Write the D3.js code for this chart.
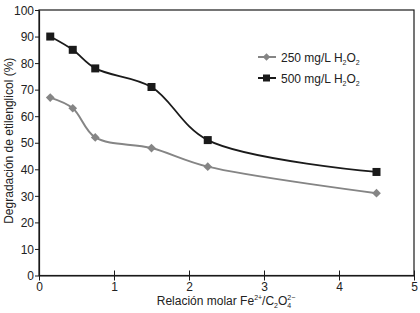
<!DOCTYPE html>
<html><head><meta charset="utf-8">
<script src="https://cdn.jsdelivr.net/npm/d3@7"></script>
<style>body{margin:0;background:#fff;}svg{display:block;}text{font-family:"Liberation Sans",Arial,sans-serif;fill:#222;}</style>
</head><body><svg id="c" width="420" height="313"></svg>
<script>
const ratio = [0.15, 0.45, 0.75, 1.5, 2.25, 4.5];
const s250 = [67, 63, 52, 48, 41, 31];
const s500 = [90, 85, 78, 71, 51, 39];
const xTicks = [0, 1, 2, 3, 4, 5];
const yTicks = [0, 10, 20, 30, 40, 50, 60, 70, 80, 90, 100];

const svg = d3.select("#c");
const L = 39, R = 414, T = 10, B = 275.5;
const x = d3.scaleLinear().domain([0, 5]).range([L, R]);
const y = d3.scaleLinear().domain([0, 100]).range([B, T]);
const ink = "#1a1a1a", gray = "#858585";

// frame
svg.append("rect").attr("x", L).attr("y", T).attr("width", R - L).attr("height", B - T)
  .attr("fill", "none").attr("stroke", ink).attr("stroke-width", 1.2);

const xa = svg.append("g").attr("transform", `translate(0,${B})`)
  .call(d3.axisBottom(x).tickValues(xTicks).tickSize(5).tickSizeOuter(0).tickFormat(d3.format("d")));
xa.selectAll("line").attr("y1", -5).attr("y2", 5);
const ya = svg.append("g").attr("transform", `translate(${L},0)`)
  .call(d3.axisLeft(y).tickValues(yTicks).tickSize(4).tickSizeOuter(0).tickFormat(d3.format("d")));
[xa, ya].forEach(a => {
  a.select(".domain").attr("stroke", ink).attr("stroke-width", 1.2);
  a.selectAll("line").attr("stroke", ink).attr("stroke-width", 1);
  a.selectAll("text").attr("font-size", 12).attr("fill", "#222")
    .style("font-family", '"Liberation Sans",Arial,sans-serif');
});
xa.selectAll("text").attr("dy", "0.95em").attr("y", 4);
ya.selectAll("text").attr("x", -5).attr("dy", "0.35em");

// axis titles
const xt = svg.append("text").attr("x", 226).attr("y", 305).attr("text-anchor", "middle").attr("font-size", 12);
xt.append("tspan").text("Relación molar Fe");
xt.append("tspan").text("2+").attr("font-size", 7).attr("dy", -5);
xt.append("tspan").text("/C").attr("font-size", 12).attr("dy", 5);
xt.append("tspan").text("2").attr("font-size", 7).attr("dy", 3);
xt.append("tspan").text("O").attr("font-size", 12).attr("dy", -3);
xt.append("tspan").text("4").attr("font-size", 7).attr("dy", 3);
xt.append("tspan").text("2−").attr("font-size", 7).attr("dx", -4).attr("dy", -8);

svg.append("text").attr("transform", `translate(13,${(T + B) / 2 - 2}) rotate(-90)`)
  .attr("text-anchor", "middle").attr("font-size", 12).text("Degradación de etilenglicol (%)");

const line = d3.line().x(d => x(d[0])).y(d => y(d[1])).curve(d3.curveCatmullRom.alpha(0.5));
const d250 = ratio.map((r, i) => [r, s250[i]]);
const d500 = ratio.map((r, i) => [r, s500[i]]);

svg.append("path").datum(d250).attr("d", line).attr("fill", "none").attr("stroke", gray).attr("stroke-width", 2);
svg.append("path").datum(d500).attr("d", line).attr("fill", "none").attr("stroke", ink).attr("stroke-width", 1.8);

const diamond = d3.symbol().type(d3.symbolDiamond2 || d3.symbolDiamond).size(60);
svg.append("g").selectAll("path").data(d250).join("path")
  .attr("d", d3.symbol().type(d3.symbolSquare).size(38))
  .attr("transform", d => `translate(${x(d[0])},${y(d[1])}) rotate(45)`).attr("fill", gray);
svg.append("g").selectAll("rect").data(d500).join("rect")
  .attr("x", d => x(d[0]) - 4).attr("y", d => y(d[1]) - 4).attr("width", 8).attr("height", 8).attr("fill", ink);

// legend
const leg = [{label: "250 mg/L H", color: gray, sq: false, y: 57}, {label: "500 mg/L H", color: ink, sq: true, y: 78}];
leg.forEach(l => {
  svg.append("line").attr("x1", 258).attr("x2", 276).attr("y1", l.y).attr("y2", l.y)
    .attr("stroke", l.color).attr("stroke-width", 2);
  if (l.sq) svg.append("rect").attr("x", 263).attr("y", l.y - 3.5).attr("width", 7).attr("height", 7).attr("fill", l.color);
  else svg.append("path").attr("d", d3.symbol().type(d3.symbolSquare).size(28)).attr("transform", `translate(266.5,${l.y}) rotate(45)`).attr("fill", l.color);
  const t = svg.append("text").attr("x", 281).attr("y", l.y + 4.5).attr("font-size", 12);
  t.append("tspan").text(l.label);
  t.append("tspan").text("2").attr("font-size", 7).attr("dy", 3);
  t.append("tspan").text("O").attr("font-size", 12).attr("dy", -3);
  t.append("tspan").text("2").attr("font-size", 7).attr("dy", 3);
});
</script></body></html>
